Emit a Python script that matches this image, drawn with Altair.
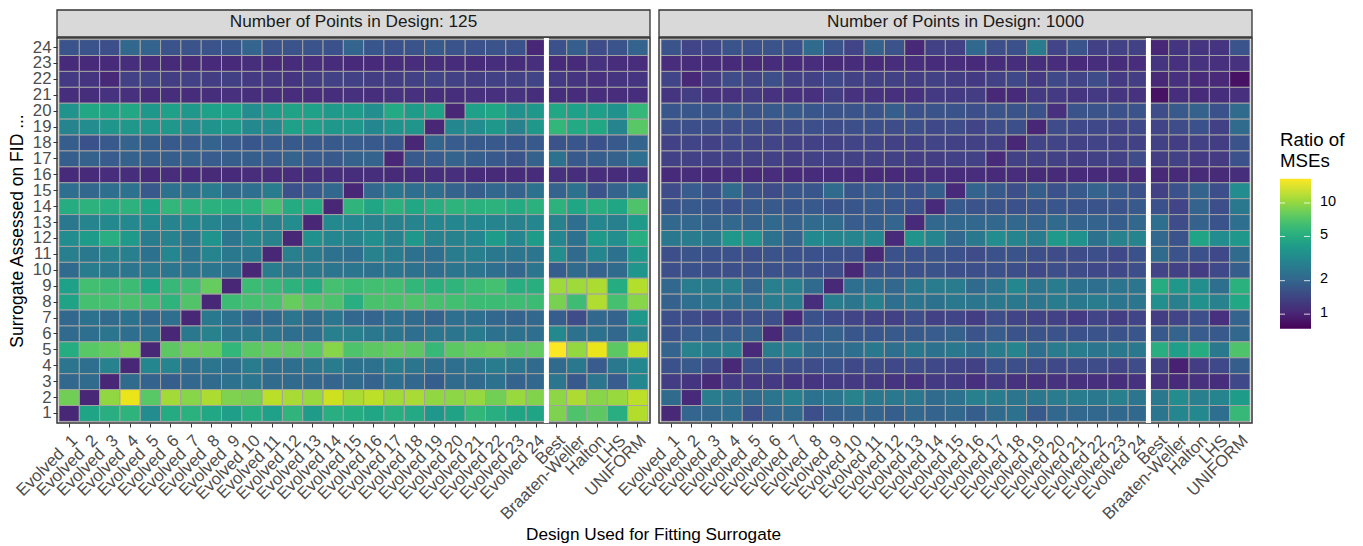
import altair as alt
import pandas as pd

COLS = ["Evolved \u00a0%d" % i if i < 10 else "Evolved %d" % i for i in range(1, 25)] + ["Best", "Braaten-Weller", "Halton", "LHS", "UNIFORM"]
ROWS = [str(i) for i in range(24, 0, -1)]
FONT = "Liberation Sans"

A24 = [1.6,1.6,1.5,2.0,1.9,1.6,1.6,1.6,1.65,1.95,1.6,1.6,1.6,1.55,1.95,1.65,1.55,1.6,1.7,1.6,1.55,1.6,1.55,1.0,1.55,1.8,1.45,1.6,1.9]
A23 = [1.05,1.05,1.05,1.08,1.06,1.05,1.04,1.05,1.05,1.08,1.05,1.06,1.07,1.06,1.05,1.05,1.06,1.07,1.07,1.06,1.05,1.08,1.06,1.09,1.05,1.05,1.12,1.07,1.07]
A22 = [1.2,1.15,1.02,1.3,1.35,1.25,1.3,1.25,1.28,1.2,1.2,1.15,1.25,1.3,1.3,1.25,1.25,1.3,1.35,1.3,1.25,1.3,1.3,1.35,1.2,1.15,1.1,1.15,1.15]
A21 = [1.08,1.08,1.12,1.1,1.06,1.08,1.06,1.08,1.1,1.08,1.08,1.07,1.07,1.08,1.1,1.08,1.12,1.1,1.08,1.08,1.1,1.1,1.12,1.08,1.08,1.06,1.07,1.07,1.08]
A20 = [3.5,4.6,4.3,4.6,3.7,4.2,3.8,4.2,4.2,3.2,3.9,4.3,4.2,3.9,4.0,3.3,4.7,4.0,4.3,1.0,4.2,4.5,3.4,3.7,4.6,4.2,4.1,3.4,5.7]
A19 = [2.9,3.2,3.6,3.8,3.6,3.8,3.2,3.5,3.9,3.1,3.1,4.2,4.1,3.8,3.7,3.0,3.5,3.6,1.0,3.0,3.2,3.7,2.8,3.7,5.6,4.7,4.6,2.9,7.2]
A18 = [1.8,1.55,1.7,1.9,1.8,1.7,1.75,1.9,1.75,1.65,1.75,1.7,1.7,1.7,1.75,1.7,1.65,1.0,1.95,1.75,1.7,1.7,1.65,1.7,1.6,1.65,1.55,1.7,1.9]
A17 = [1.8,1.85,1.75,1.85,1.8,1.8,1.85,1.75,1.8,1.8,1.75,1.9,1.75,1.7,1.85,1.9,1.0,1.7,1.75,1.9,1.8,1.7,1.6,1.85,2.3,1.7,1.8,1.85,2.2]
A16 = [1.05,1.05,1.07,1.08,1.05,1.07,1.05,1.04,1.05,1.07,1.07,1.07,1.08,1.08,1.08,1.08,1.04,1.06,1.08,1.09,1.05,1.04,1.05,1.06,1.1,1.08,1.07,1.06,1.08]
A15 = [2.2,2.0,2.2,2.3,1.7,2.3,2.3,2.6,2.1,2.2,2.6,1.55,1.75,2.0,1.0,2.0,2.4,2.2,2.2,1.9,1.8,2.0,1.9,2.3,1.9,2.3,1.6,1.9,2.4]
A14 = [4.9,5.3,5.0,5.3,4.4,5.6,5.3,5.2,5.1,5.2,6.4,4.8,4.8,1.0,5.5,4.5,5.3,4.6,5.0,5.4,5.2,5.3,4.8,5.2,5.3,4.5,5.1,4.5,6.8]
A13 = [2.5,2.9,3.1,3.1,3.1,2.9,3.0,2.9,2.6,3.0,2.8,3.2,1.0,3.1,3.0,2.8,2.8,2.9,3.0,3.0,3.0,2.9,2.8,3.0,2.8,2.2,3.0,2.7,3.9]
A12 = [3.2,4.0,5.0,3.9,2.6,2.8,2.5,3.5,2.4,2.9,2.8,1.0,3.4,3.0,2.9,3.3,2.8,3.7,2.8,2.8,3.0,4.0,3.0,4.0,3.0,2.3,3.9,3.3,5.0]
A11 = [2.7,2.5,2.8,2.7,2.3,3.0,2.4,2.9,2.5,2.5,1.0,2.7,2.6,2.3,2.2,2.8,2.6,2.3,2.2,2.6,2.7,2.5,2.4,2.4,3.3,2.1,3.0,2.3,3.7]
A10 = [2.1,2.6,2.5,2.4,2.5,2.4,2.4,2.4,2.3,1.0,2.6,2.4,2.5,2.4,2.4,2.3,2.4,2.3,2.2,2.4,2.4,2.2,2.0,2.4,1.8,2.1,1.9,2.1,3.6]
A09 = [4.2,6.3,6.0,6.0,4.6,5.8,6.2,7.8,1.0,6.0,5.8,5.3,4.9,6.4,6.0,6.3,6.3,5.6,5.2,5.5,6.0,6.4,5.0,5.1,10.3,10.3,11.0,4.9,11.4]
A08 = [4.3,6.4,6.4,6.6,6.2,5.4,6.9,1.0,6.0,6.4,6.5,7.8,7.0,6.7,5.0,6.6,6.6,6.8,6.5,6.3,6.0,6.0,6.1,6.0,8.6,6.1,11.2,6.4,9.2]
A07 = [2.0,2.3,2.1,2.3,2.0,2.2,1.0,2.5,2.3,1.95,2.05,2.4,2.1,2.4,2.0,1.95,2.2,2.1,1.9,2.2,2.2,2.0,1.9,2.0,1.8,1.45,2.0,1.9,3.8]
A06 = [2.1,2.2,2.4,2.2,2.3,1.0,2.5,2.8,2.4,2.5,2.4,2.2,2.2,2.7,2.7,2.5,2.4,2.2,2.4,2.4,2.6,2.3,2.3,2.2,3.1,2.3,2.3,2.0,2.9]
A05 = [4.9,7.2,7.7,8.6,1.0,7.4,8.1,7.9,5.6,7.3,7.7,7.6,7.2,9.2,6.8,7.4,7.7,7.4,5.8,7.3,7.8,8.2,7.5,7.6,16.0,9.8,14.5,7.3,12.5]
A04 = [2.4,2.2,2.8,1.0,3.0,2.9,2.2,2.4,2.2,2.6,2.2,2.2,2.4,2.6,2.3,2.3,2.6,2.4,2.2,2.2,2.4,2.6,2.4,2.1,2.1,2.5,1.75,2.5,3.0]
A03 = [2.0,2.1,1.0,2.1,1.9,1.8,2.0,2.1,2.3,2.4,2.1,2.1,2.0,1.95,2.1,1.9,2.2,2.0,1.8,2.1,2.1,2.3,1.9,2.0,2.4,1.7,2.4,1.75,3.0]
A02 = [8.2,1.0,9.7,14.5,7.2,10.5,9.2,11.0,8.8,8.5,11.7,10.8,10.0,12.8,11.0,11.8,10.5,10.8,9.7,9.5,9.9,8.3,10.0,9.0,9.5,11.0,9.3,10.0,11.8]
A01 = [1.0,4.4,5.0,5.4,3.2,4.8,5.2,4.6,4.1,4.8,4.2,5.5,4.0,5.0,4.9,4.5,5.0,4.7,3.8,4.3,5.6,5.0,4.4,4.4,8.8,6.8,7.4,5.0,11.3]

B24 = [1.6,1.35,1.4,1.6,1.55,1.6,1.55,2.1,1.6,1.35,1.85,1.6,1.02,1.3,1.3,2.05,1.5,1.55,2.6,1.35,1.6,1.3,1.3,1.3,1.0,1.15,1.15,1.15,1.6]
B23 = [1.07,1.06,1.06,1.05,1.05,1.06,1.05,1.07,1.04,1.06,1.05,1.07,1.07,1.06,1.07,1.05,1.06,1.08,1.08,1.07,1.05,1.08,1.06,1.07,1.15,1.1,1.12,1.1,1.12]
B22 = [1.35,1.02,1.25,1.45,1.35,1.5,1.3,1.3,1.4,1.3,1.3,1.3,1.25,1.3,1.25,1.2,1.3,1.4,1.2,1.4,1.35,1.45,1.2,1.25,1.02,1.1,1.05,1.03,0.82]
B21 = [1.15,1.25,1.12,1.12,1.2,1.12,1.1,1.1,1.25,1.12,1.12,1.1,1.1,1.2,1.2,1.25,1.02,1.05,1.2,1.2,1.15,1.2,1.15,1.12,0.82,1.08,1.05,1.08,1.1]
B20 = [1.65,1.65,1.65,1.7,1.6,1.7,1.7,1.65,1.6,1.6,1.6,1.8,1.55,1.6,1.6,1.5,1.6,1.6,1.55,1.1,1.6,1.6,1.55,1.6,1.45,1.7,1.85,1.55,2.1]
B19 = [1.5,1.5,1.5,1.45,1.5,1.45,1.45,1.5,1.45,1.5,1.5,1.45,1.5,1.4,1.45,1.35,1.45,1.5,1.0,1.45,1.4,1.4,1.35,1.4,1.35,1.45,1.55,1.3,2.1]
B18 = [1.3,1.35,1.3,1.4,1.35,1.35,1.3,1.3,1.3,1.35,1.35,1.3,1.3,1.35,1.3,1.3,1.3,1.0,1.35,1.35,1.3,1.35,1.3,1.3,1.3,1.25,1.3,1.25,1.6]
B17 = [1.3,1.3,1.3,1.3,1.3,1.3,1.25,1.3,1.3,1.3,1.3,1.3,1.25,1.25,1.3,1.3,1.05,1.3,1.3,1.3,1.25,1.3,1.3,1.45,1.25,1.3,1.2,1.22,1.55]
B16 = [1.05,1.06,1.05,1.06,1.05,1.07,1.05,1.06,1.06,1.05,1.05,1.05,1.06,1.07,1.06,1.07,1.05,1.07,1.04,1.04,1.05,1.05,1.04,1.03,1.02,1.04,1.04,1.04,1.08]
B15 = [1.45,1.75,1.55,2.1,1.6,1.45,1.65,1.65,2.1,1.65,1.75,1.65,1.55,1.8,1.05,1.9,1.7,1.5,1.8,1.55,1.7,1.9,1.7,1.55,1.3,1.55,1.9,1.5,3.2]
B14 = [1.6,1.7,1.65,1.55,1.7,1.7,1.65,1.7,1.6,1.65,1.7,1.65,1.55,1.05,1.7,1.6,1.6,1.55,1.6,1.65,1.6,1.6,1.6,1.7,1.55,1.35,1.9,1.5,2.5]
B13 = [2.0,2.0,1.85,2.0,1.85,2.05,1.85,2.1,2.1,1.75,1.8,1.95,1.05,2.0,2.0,2.0,2.0,2.0,1.9,2.1,1.9,1.9,1.8,2.0,2.2,1.45,1.85,1.6,2.2]
B12 = [2.5,2.6,2.5,3.7,3.5,2.3,1.9,3.1,2.9,2.9,3.0,1.05,3.5,2.9,2.0,2.5,3.2,2.9,2.6,3.9,3.4,2.3,2.8,2.9,2.0,1.6,4.4,3.2,3.8]
B11 = [1.5,1.6,1.55,1.55,1.5,1.6,1.55,1.55,1.55,1.5,1.02,1.55,1.55,1.6,1.55,1.45,1.55,1.6,1.5,1.45,1.45,1.5,1.4,1.55,2.1,1.6,1.55,1.4,2.1]
B10 = [1.5,1.55,1.5,1.5,1.55,1.55,1.55,1.5,1.45,1.02,1.5,1.55,1.55,1.6,1.5,1.5,1.55,1.5,1.4,1.5,1.45,1.4,1.4,1.5,1.35,1.3,1.25,1.4,1.8]
B09 = [2.0,2.6,2.6,2.7,1.95,2.7,2.7,2.1,1.02,2.2,2.2,2.0,2.5,2.6,2.6,2.1,2.4,3.0,2.4,2.6,2.3,2.2,2.4,2.4,4.9,3.7,3.3,2.2,5.2]
B08 = [1.85,2.2,2.4,2.2,2.2,2.6,2.6,1.08,2.6,2.4,2.7,2.2,2.4,2.3,2.5,2.4,2.5,2.5,2.4,2.6,2.5,2.6,2.4,2.4,3.3,2.7,3.4,2.8,4.6]
B07 = [1.5,1.45,1.35,1.4,1.5,1.5,1.05,1.55,1.4,1.35,1.3,1.3,1.45,1.3,1.35,1.25,1.45,1.35,1.3,1.3,1.2,1.35,1.25,1.35,1.25,1.35,1.5,1.1,1.9]
B06 = [1.6,1.75,1.8,1.75,1.85,1.02,1.6,1.75,1.85,1.65,1.65,1.7,1.7,1.75,1.85,1.6,1.75,1.6,1.6,1.6,1.55,1.6,1.6,1.65,1.7,1.9,1.75,1.7,2.0]
B05 = [1.9,2.8,2.6,2.7,1.05,2.6,2.7,2.1,2.0,2.2,2.5,2.2,2.5,2.3,2.5,2.2,2.6,2.9,2.2,2.6,2.6,2.4,2.5,2.5,5.0,4.1,4.9,2.5,6.8]
B04 = [1.55,1.7,1.45,1.02,1.5,1.55,1.5,1.45,1.55,1.4,1.45,1.4,1.45,1.4,1.35,1.3,1.55,1.5,1.45,1.4,1.45,1.45,1.35,1.45,1.3,0.95,1.25,1.4,1.8]
B03 = [1.25,1.15,1.02,1.2,1.18,1.2,1.15,1.15,1.2,1.2,1.2,1.15,1.12,1.2,1.2,1.1,1.2,1.12,1.1,1.12,1.1,1.1,1.08,1.12,1.1,1.05,1.1,1.08,1.4]
B02 = [2.1,1.05,2.6,2.4,2.1,2.4,2.7,2.3,2.4,2.8,2.5,2.5,2.5,2.1,2.3,2.7,2.6,2.4,2.5,2.6,2.6,2.5,2.7,2.4,2.5,3.2,2.7,2.9,4.0]
B01 = [1.02,1.95,2.0,2.2,1.5,1.95,2.1,1.5,1.8,1.9,1.9,1.8,2.0,1.9,2.0,1.8,2.1,2.3,1.7,2.0,2.0,2.0,2.05,2.05,2.4,3.0,3.1,2.2,5.8]

PANEL_A = [A24,A23,A22,A21,A20,A19,A18,A17,A16,A15,A14,A13,A12,A11,A10,A09,A08,A07,A06,A05,A04,A03,A02,A01]
PANEL_B = [B24,B23,B22,B21,B20,B19,B18,B17,B16,B15,B14,B13,B12,B11,B10,B09,B08,B07,B06,B05,B04,B03,B02,B01]
LEGEND_TICKS = [1, 2, 5, 10]

W, H = 593, 385
DOMAIN = [0.72, 16.1]


def long_table(panel):
    out = []
    for r, vals in zip(ROWS, panel):
        assert len(vals) == len(COLS), r
        for c, v in zip(COLS, vals):
            out.append({"col": c, "row": r, "value": v})
    return pd.DataFrame(out)


band_x = alt.Scale(domain=COLS, paddingInner=0, paddingOuter=0.1)
band_y = alt.Scale(domain=ROWS, paddingInner=0, paddingOuter=0.1)


def panel(table, label, first):
    x_axis = dict(labelAngle=-45, labelAlign="right", labelBaseline="top", labelFontSize=16.8, labelColor="#4D4D4D",
                  labelFont=FONT, labelLimit=200, labelOverlap=False, labelPadding=5, tickColor="#333333", tickSize=4,
                  tickWidth=1, domain=False, grid=False, labelFlush=False)
    if first:
        x_axis.update(title="Design Used for Fitting Surrogate", titleFont=FONT, titleFontSize=17.2, titleFontWeight="normal",
                      titleColor="#000000", titleX=596, titleY=111, titleAlign="center", titleBaseline="middle")
        y_axis = alt.Axis(title="Surrogate Assessed on FID ...", titleFont=FONT, titleFontSize=17.5, titleFontWeight="normal",
                          titleColor="#000000", labelFontSize=16.8, labelColor="#4D4D4D", labelFont=FONT, labelPadding=2,
                          tickColor="#333333", tickSize=4, tickWidth=1, domain=False, grid=False, titlePadding=6)
    else:
        x_axis.update(title=None)
        y_axis = None

    legend = None
    if not first:
        legend = alt.Legend(title=["Ratio of", "MSEs"], titleFont=FONT, titleFontSize=18.7, titleFontWeight="normal",
                            titleColor="#000000", titlePadding=8, titleLineHeight=21, labelFont=FONT, labelFontSize=14.5,
                            labelColor="#000000", labelOffset=9, gradientLength=150, gradientThickness=31,
                            values=LEGEND_TICKS, orient="none", legendX=621, legendY=93, direction="vertical",
                            gradientStrokeWidth=0)

    tiles = alt.Chart(table).mark_rect(stroke="#a3a3a3", strokeWidth=1).encode(
        x=alt.X("col:N", sort=COLS, scale=band_x, axis=alt.Axis(**x_axis)),
        y=alt.Y("row:N", sort=ROWS, scale=band_y, axis=y_axis),
        color=alt.Color("value:Q", scale=alt.Scale(type="log", scheme="viridis", domain=DOMAIN, clamp=True), legend=legend),
    )
    gap = alt.Chart(pd.DataFrame({"col": [COLS[23]]})).mark_rule(color="white", strokeWidth=5).encode(
        x=alt.X("col:N", sort=COLS, scale=band_x, bandPosition=1, axis=alt.Axis(**x_axis))
    )
    strip_df = pd.DataFrame({"label": [label]})
    strip = alt.Chart(strip_df).mark_rect(fill="#d9d9d9", stroke="#333333", strokeWidth=1.3).encode(
        x=alt.value(0), x2=alt.value(W), y=alt.value(-28), y2=alt.value(-1)
    )
    strip_text = alt.Chart(strip_df).mark_text(font=FONT, fontSize=17.2, color="#1A1A1A").encode(
        x=alt.value(W / 2), y=alt.value(-16), text="label:N"
    )
    return alt.layer(tiles, gap, strip, strip_text).properties(width=W, height=H)


ticks_df = pd.DataFrame({"v": LEGEND_TICKS})
tick_y = alt.Y("v:Q", scale=alt.Scale(type="log", domain=DOMAIN, range=[292, 142]), axis=None)
ticks_left = alt.Chart(ticks_df).mark_rule(color="white", strokeWidth=1, opacity=0.8).encode(
    x=alt.value(18), x2=alt.value(24), y=tick_y)
ticks_right = alt.Chart(ticks_df).mark_rule(color="white", strokeWidth=1, opacity=0.8).encode(
    x=alt.value(43), x2=alt.value(49), y=tick_y)
tick_view = alt.layer(ticks_left, ticks_right).properties(
    width=50, height=H, view=alt.ViewConfig(stroke="transparent"))

chart = alt.hconcat(
    panel(long_table(PANEL_A), "Number of Points in Design: 125", True),
    panel(long_table(PANEL_B), "Number of Points in Design: 1000", False),
    tick_view,
    spacing=9,
    bounds="flush",
).resolve_scale(x="independent", y="independent", color="independent").properties(
    padding={"left": -1, "top": 0, "right": 0, "bottom": 0}
).configure_view(
    stroke="#333333", strokeWidth=1.5
)

chart.save("out.html", embed_options={"renderer": "svg", "actions": False})
